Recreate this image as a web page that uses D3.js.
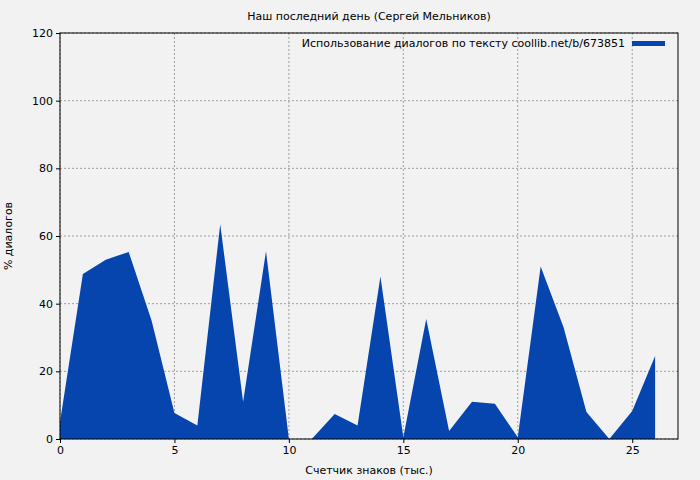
<!DOCTYPE html>
<html><head><meta charset="utf-8">
<script src="https://cdn.jsdelivr.net/npm/d3@7"></script>
<style>body{margin:0;background:#f2f2f2}text{font-family:"DejaVu Sans",sans-serif}</style>
</head><body>
<svg id="c" width="700" height="480"></svg>
<script>
const xs = [0,1,2,3,4,5,6,7,8,9,10,11,12,13,14,15,16,17,18,19,20,21,22,23,24,25,26];
const vals = [5,48.8,53,55.3,35,7.7,4,63.5,11,55.5,0,0,7.4,4,48,0.5,35.5,2.4,11,10.4,0.5,51,33,8,0,8.3,24.5];
const xTicks = [0,5,10,15,20,25];
const yTicks = [0,20,40,60,80,100,120];
const title = "Наш последний день (Сергей Мельников)";
const legendLabel = "Использование диалогов по тексту coollib.net/b/673851";
const svg = d3.select("#c");
const m = {l:60,r:678,t:33,b:439};
const x = d3.scaleLinear().domain([0,27]).range([m.l,m.r]);
const y = d3.scaleLinear().domain([0,120]).range([m.b,m.t]);
svg.append("rect").attr("width",700).attr("height",480).attr("fill","#f2f2f2");
const g = svg.append("g");
g.selectAll(".gx").data(xTicks).enter().append("line").attr("x1",d=>x(d)).attr("x2",d=>x(d)).attr("y1",m.t).attr("y2",m.b).attr("stroke","#888").attr("stroke-dasharray","2,2").attr("stroke-width",0.8);
g.selectAll(".gy").data(yTicks).enter().append("line").attr("y1",d=>y(d)).attr("y2",d=>y(d)).attr("x1",m.l).attr("x2",m.r).attr("stroke","#888").attr("stroke-dasharray","2,2").attr("stroke-width",0.8);
const data = xs.map((d,i)=>[d,vals[i]]);
g.append("path").datum(data).attr("fill","#0645ad").attr("d",d3.area().x(d=>x(d[0])).y0(y(0)).y1(d=>y(d[1])));
svg.append("rect").attr("x",m.l).attr("y",m.t).attr("width",m.r-m.l).attr("height",m.b-m.t).attr("fill","none").attr("stroke","#000");
const ax = svg.append("g").attr("transform",`translate(0,${m.b})`).call(d3.axisBottom(x).tickValues(xTicks).tickSize(4).tickSizeOuter(0));
const ay = svg.append("g").attr("transform",`translate(${m.l},0)`).call(d3.axisLeft(y).tickValues(yTicks).tickSize(4).tickSizeOuter(0));
[ax,ay].forEach(a=>{a.select(".domain").remove();a.selectAll("text").attr("font-size",11).attr("font-family","DejaVu Sans").attr("fill","#000");});
svg.append("text").attr("x",369).attr("y",20).attr("text-anchor","middle").attr("font-size",11).text(title);
svg.append("text").attr("x",369).attr("y",474).attr("text-anchor","middle").attr("font-size",11).text("Счетчик знаков (тыс.)");
svg.append("text").attr("transform","translate(12,236) rotate(-90)").attr("text-anchor","middle").attr("font-size",11).text("% диалогов");
svg.append("text").attr("x",625).attr("y",47).attr("text-anchor","end").attr("font-size",11).text(legendLabel);
svg.append("rect").attr("x",632).attr("y",41).attr("width",33).attr("height",5).attr("fill","#0645ad");
</script></body></html>
